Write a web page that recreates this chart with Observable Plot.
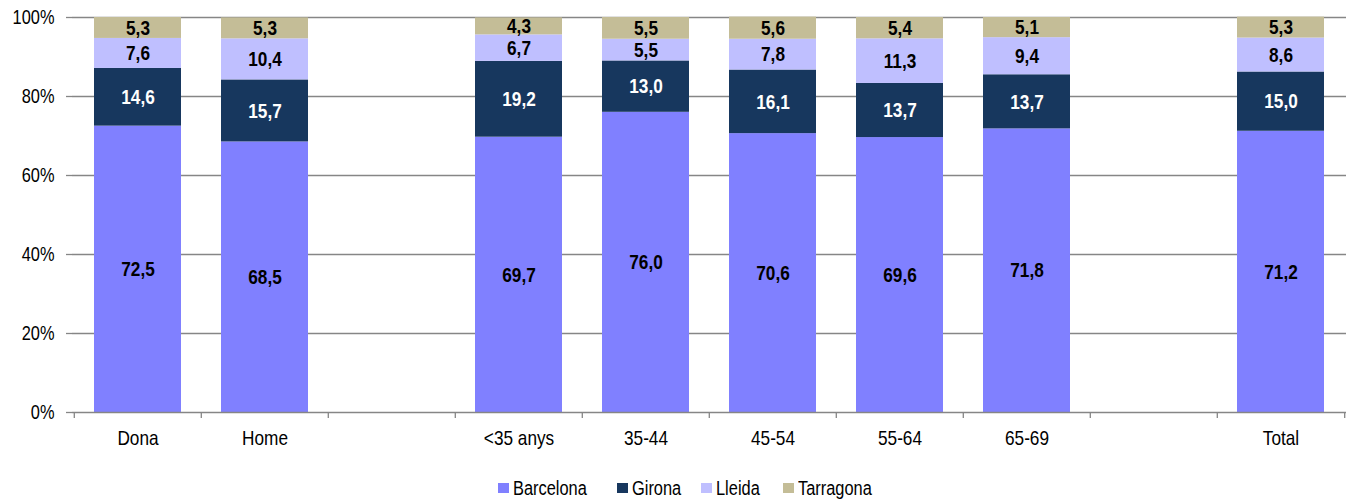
<!DOCTYPE html>
<html><head><meta charset="utf-8">
<script src="https://cdn.jsdelivr.net/npm/d3@7"></script>
<script src="https://cdn.jsdelivr.net/npm/@observablehq/plot@0.6"></script>
<style>
body{margin:0;background:#fff;}
#chart{position:relative;width:1357px;height:501px;font-family:"Liberation Sans Narrow","Arial Narrow","Liberation Sans",sans-serif;}
#chart svg{position:absolute;left:0;top:0;}
#legend{position:absolute;top:477px;left:0;width:1357px;height:24px;font-size:20px;color:#000;}
.li{position:absolute;top:0;height:22px;white-space:nowrap;}
.sw{position:absolute;left:0;top:6px;width:11px;height:10px;}
.lt{position:absolute;left:15px;top:0;line-height:22px;display:inline-block;transform:scaleX(0.82);transform-origin:0 50%;}
</style></head><body><div id="chart"><div id="legend"></div></div>
<script>
// Categories (slots include two empty gaps)
const slots = ["Dona","Home","gap1","<35 anys","35-44","45-54","55-64","65-69","gap2","Total"];
const groups = ["Dona","Home","<35 anys","35-44","45-54","55-64","65-69","Total"];
const regions = ["Barcelona","Girona","Lleida","Tarragona"];
const colors = ["#8080FF","#17375E","#BFBFFF","#C4BD97"];
const barcelona = [72.5,68.5,69.7,76.0,70.6,69.6,71.8,71.2];
const girona    = [14.6,15.7,19.2,13.0,16.1,13.7,13.7,15.0];
const lleida    = [7.6,10.4,6.7,5.5,7.8,11.3,9.4,8.6];
const tarragona = [5.3,5.3,4.3,5.5,5.6,5.4,5.1,5.3];
const yTicks = [0,20,40,60,80,100];

const series = [barcelona, girona, lleida, tarragona];
const data = [];
regions.forEach((r, k) => groups.forEach((g, i) => data.push({group: g, region: r, value: series[k][i]})));
const fmt = v => d3.format(".1f")(v).replace(".", ",");

const W = 1357, mL = 72, mR = 11, mT = 17, mB = 50;
const step = (W - mL - mR) / slots.length;
const axisColor = "#868686";
const font = `"Liberation Sans Narrow","Arial Narrow","Liberation Sans",sans-serif`;

const plot = Plot.plot({
  width: W, height: 462,
  marginLeft: mL, marginRight: mR, marginTop: mT, marginBottom: mB,
  style: {fontFamily: font, fontSize: "20px", color: "#000", background: "#fff"},
  x: {domain: slots, paddingInner: 0.317, paddingOuter: 0.1585, axis: null, label: null},
  y: {domain: [0, 100], axis: null, label: null},
  color: {domain: regions, range: colors},
  marks: [
    Plot.gridY(yTicks.filter(d => d > 0), {stroke: axisColor, strokeOpacity: 1, strokeWidth: 1.3}),
    Plot.barY(data, Plot.stackY({x: "group", y: "value", fill: "region"})),
    Plot.text(data, Plot.stackY({x: "group", y: "value", z: "region",
      text: d => d.region === "Girona" ? "" : fmt(d.value),
      fill: "black", fontWeight: "bold", fontSize: 21})),
    Plot.text(data, Plot.stackY({x: "group", y: "value", z: "region",
      text: d => d.region === "Girona" ? fmt(d.value) : "",
      fill: "white", fontWeight: "bold", fontSize: 21})),
    Plot.ruleY([0], {stroke: axisColor, strokeWidth: 1.3}),
    Plot.axisY({ticks: yTicks, tickFormat: d => d + "%", tickSize: 6, tickPadding: 12, label: null,
      fontSize: 20, stroke: axisColor, strokeWidth: 1.3, line: true}),
    Plot.ruleX(slots, {x: d => d, y1: 0, y2: 0, dx: -step / 2, insetBottom: -6, stroke: axisColor, strokeWidth: 1.3}),
    Plot.ruleX(slots.slice(-1), {x: d => d, y1: 0, y2: 0, dx: step / 2, insetBottom: -6, stroke: axisColor, strokeWidth: 1.3}),
    Plot.axisX({tickSize: 0, tickPadding: 18, fontSize: 21, label: null,
      tickFormat: d => d.startsWith("gap") ? "" : d})
  ]
});
// condense text horizontally around its anchor (narrow face not installed)
d3.select(plot).selectAll("text").each(function() {
  const t = this.getAttribute("transform") || "";
  this.setAttribute("transform", `${t} scale(0.82,1)`);
});
document.getElementById("chart").appendChild(plot);

// Legend
const legendX = [498, 617, 701, 783];
const legend = document.getElementById("legend");
regions.forEach((r, k) => {
  const item = document.createElement("div");
  item.className = "li";
  item.style.left = legendX[k] + "px";
  item.innerHTML = `<span class="sw" style="background:${colors[k]}"></span><span class="lt">${r}</span>`;
  legend.appendChild(item);
});
</script></body></html>
